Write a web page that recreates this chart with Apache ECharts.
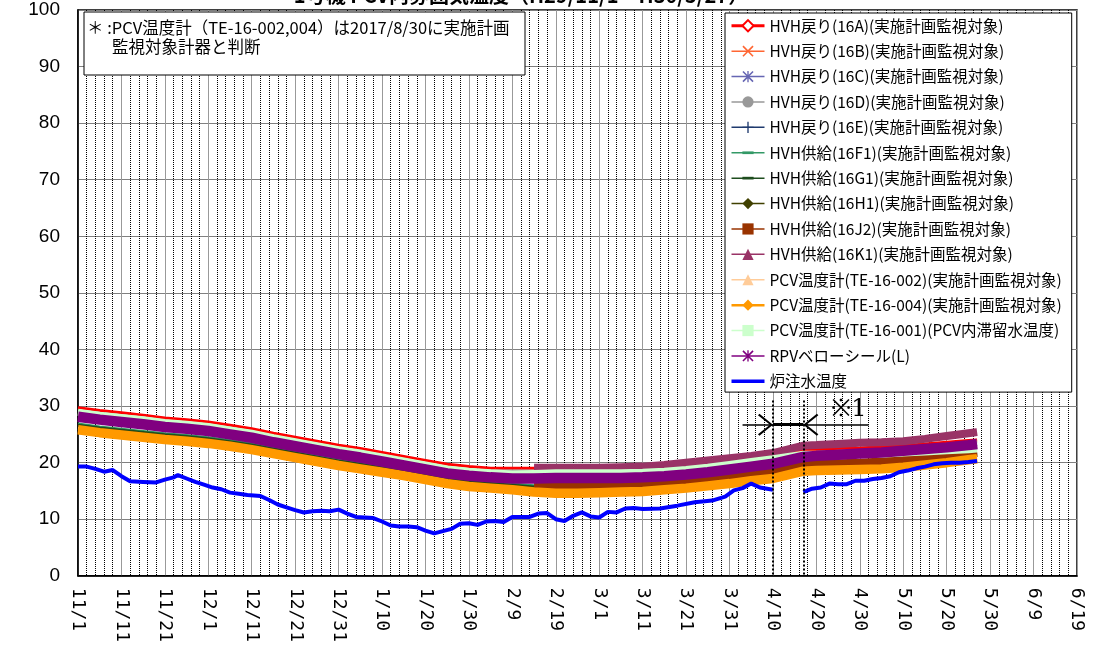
<!DOCTYPE html>
<html>
<head>
<meta charset="utf-8">
<title>PCV温度</title>
<script src="https://cdn.jsdelivr.net/npm/echarts@6/dist/echarts.min.js"></script>
<style>
html, body { margin: 0; padding: 0; background: #fff; }
#chart { width: 1100px; height: 645px; }
</style>
</head>
<body>
<div id="chart"></div>
<script>
/* x軸ラベル (11/1起点, 10日毎) */
var tickLabels = ['11/1','11/11','11/21','12/1','12/11','12/21','12/31','1/10','1/20','1/30','2/9','2/19',
    '3/1','3/11','3/21','3/31','4/10','4/20','4/30','5/10','5/20','5/30','6/9','6/19'];

/* 11/1からの経過日数 */
var days = [0,5,10,15,20,25,30,35,40,45,50,55,60,65,70,75,80,85,90,95,100,105,110,115,120,125,130,135,140,145,150,155,160,
    167,170,175,180,185,190,195,200,205,207];

var hvh16A = [29.7,29.2,28.8,28.4,27.9,27.6,27.2,26.6,26.0,25.2,24.5,23.8,23.1,22.5,21.8,21.1,20.4,19.7,19.3,19.0,19.0,19.0,19.0,19.0,19.1,19.2,19.3,19.5,19.8,20.1,20.5,20.9,21.3,
    22.2,22.3,22.5,22.6,22.8,23.0,23.3,23.6,23.9,24.0];
var hvh16B = [28.7,28.2,27.8,27.4,26.9,26.6,26.2,25.6,25.0,24.2,23.5,22.8,22.1,21.5,20.8,20.1,19.4,18.7,18.3,18.0,17.8,17.7,17.8,17.8,17.8,17.8,17.8,18.1,18.5,18.9,19.4,19.9,20.4,
    21.6,21.8,22.0,22.2,22.4,22.7,23.0,23.3,23.7,23.9];
var hvh16C = [28.4,27.9,27.5,27.1,26.6,26.3,25.9,25.3,24.7,23.9,23.2,22.5,21.8,21.2,20.5,19.8,19.1,18.4,18.0,17.7,17.5,17.4,17.5,17.5,17.5,17.5,17.5,17.8,18.2,18.6,19.1,19.6,20.1,
    21.3,21.5,21.7,21.9,22.1,22.4,22.7,23.0,23.4,23.6];
var hvh16D = [29.2,28.8,28.4,28.0,27.4,27.1,26.8,26.2,25.5,24.7,23.9,23.1,22.4,21.8,21.1,20.5,19.7,19.0,18.7,18.6,18.6,18.6,18.6,18.6,18.7,18.8,18.9,19.1,19.4,19.7,20.1,20.5,20.9,
    21.8,21.9,22.1,22.2,22.4,22.6,22.9,23.2,23.5,23.6];
var hvh16E = [27.9,27.4,27.0,26.6,26.1,25.8,25.4,24.8,24.2,23.4,22.7,22.0,21.3,20.7,20.0,19.3,18.6,17.9,17.5,17.2,17.0,16.9,17.0,17.0,17.0,17.0,17.0,17.3,17.7,18.1,18.6,19.1,19.6,
    20.8,21.0,21.2,21.4,21.6,21.9,22.2,22.5,22.9,23.1];
var hvh16F1 = [26.9,26.4,26.0,25.6,25.2,24.9,24.5,24.0,23.4,22.7,22.0,21.3,20.6,20.0,19.4,18.8,18.1,17.4,16.9,16.6,16.3,16.0,15.8,15.8,15.9,16.0,16.1,16.4,16.7,17.1,17.5,18.0,18.4,
    19.6,19.7,19.8,19.9,20.0,20.3,20.7,21.1,21.6,21.8];
var hvh16G1 = [26.7,26.2,25.8,25.4,25.0,24.7,24.3,23.8,23.2,22.5,21.8,21.1,20.4,19.8,19.2,18.6,17.9,17.2,16.7,16.4,16.1,15.8,15.6,15.6,15.7,15.8,15.9,16.2,16.5,16.9,17.3,17.8,18.2,
    19.4,19.5,19.6,19.7,19.8,20.1,20.5,20.9,21.4,21.6];
var hvh16H1 = [26.5,26.0,25.6,25.2,24.8,24.5,24.1,23.6,23.0,22.3,21.6,20.9,20.2,19.6,19.0,18.4,17.7,17.0,16.5,16.2,15.9,15.6,15.4,15.4,15.5,15.6,15.7,16.0,16.3,16.7,17.1,17.6,18.0,
    19.2,19.3,19.4,19.5,19.6,19.9,20.3,20.7,21.2,21.4];
var hvh16J2 = [null,null,null,null,null,null,null,null,null,null,null,null,null,null,null,null,null,null,null,null,null,
    15.8,15.8,15.8,15.8,15.9,16.0,16.4,16.8,17.2,17.6,18.0,18.4,
    19.6,19.7,19.8,19.9,20.1,20.4,20.8,21.2,21.6,21.8];
var hvh16K1 = [null,null,null,null,null,null,null,null,null,null,null,null,null,null,null,null,null,null,null,null,null,
    19.1,19.1,19.1,19.1,19.2,19.3,19.6,20.0,20.4,20.8,21.2,21.7,
    23.0,23.1,23.3,23.5,23.6,23.8,24.2,24.7,25.2,25.4];
var te002 = [26.1,25.6,25.2,24.8,24.4,24.1,23.7,23.2,22.6,21.9,21.2,20.5,19.8,19.2,18.6,18.0,17.3,16.6,16.1,15.8,15.5,15.2,15.0,15.0,15.1,15.2,15.3,15.6,15.9,16.3,16.7,17.2,17.6,
    18.8,18.9,19.0,19.1,19.2,19.5,19.9,20.3,20.8,21.0];
var te004 = [25.8,25.3,24.9,24.5,24.1,23.8,23.4,22.9,22.3,21.6,20.9,20.2,19.5,18.9,18.3,17.7,17.0,16.3,15.8,15.5,15.2,14.8,14.6,14.6,14.7,14.8,14.9,15.2,15.5,15.9,16.3,16.8,17.2,
    18.5,18.6,18.7,18.8,18.9,19.2,19.6,20.0,20.5,20.7];
var te001 = [28.9,28.4,28.0,27.6,27.1,26.8,26.4,25.8,25.2,24.4,23.7,23.0,22.3,21.7,21.0,20.3,19.6,18.9,18.5,18.2,18.0,18.1,18.2,18.2,18.2,18.2,18.3,18.5,18.8,19.2,19.7,20.2,20.7,
    21.5,21.5,21.5,21.5,21.5,21.7,21.9,22.1,22.3,22.4];
var rpvBellows = [28.1,27.6,27.2,26.8,26.3,26.0,25.6,25.0,24.4,23.6,22.9,22.2,21.5,20.9,20.2,19.5,18.8,18.1,17.7,17.4,17.2,17.2,17.3,17.3,17.3,17.3,17.4,17.6,17.9,18.3,18.8,19.3,19.8,
    21.0,21.2,21.4,21.6,21.8,22.1,22.4,22.7,23.1,23.3];

/* 炉注水温度 (4/10～4/17 欠測) */
var waterDays = [0,2,4,6,8,10,12,15,18,20,22,23,25,27,29,31,33,35,37,39,42,44,46,48,50,52,54,56,58,60,
    62,64,66,68,70,72,74,76,78,80,82,84,86,88,90,92,94,96,98,100,102,104,106,108,110,112,114,116,118,120,
    122,124,126,128,130,134,138,142,146,149,151,153,155,157,160,163,167,169,171,173,175,177,179,181,183,185,
    187,189,191,193,195,197,199,201,203,205,207];
var waterTemp = [19.3,19.3,18.9,18.4,18.7,17.6,16.7,16.6,16.5,17.0,17.4,17.8,17.2,16.6,16.1,15.6,15.3,14.7,14.5,14.3,
    14.1,13.4,12.6,12.1,11.6,11.2,11.4,11.5,11.4,11.7,11.0,10.4,10.3,10.2,9.6,8.9,8.7,8.7,8.6,8.0,
    7.5,7.9,8.3,9.2,9.3,9.0,9.6,9.7,9.5,10.4,10.4,10.4,11.0,11.1,10.0,9.7,10.6,11.2,10.5,10.3,
    11.3,11.2,11.9,12.0,11.8,11.9,12.4,13.0,13.3,14.0,15.1,15.5,16.3,15.6,15.2,null,
    14.8,15.4,15.6,16.3,16.2,16.2,16.8,16.8,17.1,17.3,17.6,18.3,18.6,19.0,19.3,19.7,19.9,20.0,20.0,20.1,20.3];

var FONT = "'Noto Sans CJK JP', sans-serif";

/* 記号 */
var symCross = 'path://M0,1L1,0L5,4L9,0L10,1L6,5L10,9L9,10L5,6L1,10L0,9L4,5Z';
var symStar = 'path://M0,1L1,0L5,4L9,0L10,1L6,5L10,9L9,10L5,6L1,10L0,9L4,5Z M4.4,0H5.6V10H4.4Z';
var symPlus = 'path://M4.4,0H5.6V4.4H10V5.6H5.6V10H4.4V5.6H0V4.4H4.4Z';
var symDash = 'path://M1,3.8H9V6.2H1Z M5,0L5,0 M5,10L5,10';
var symChevron = 'path://M11,0L22,13.5L20.6,15L11,3L1.4,15L0,13.5Z';

function zip(xs, ys) {
    var out = [];
    for (var i = 0; i < xs.length; i++) {
        out.push([xs[i], ys[i]]);
    }
    return out;
}

function lineSeries(name, xs, ys, color, width, symbol) {
    return {
        name: name,
        type: 'line',
        data: zip(xs, ys),
        symbol: symbol,
        showSymbol: false,
        connectNulls: false,
        lineStyle: { color: color, width: width },
        itemStyle: { color: color },
        emphasis: { disabled: true },
        animation: false
    };
}

var series = [
    lineSeries('HVH戻り(16A)(実施計画監視対象)', days, hvh16A, '#ff0000', 3, 'emptyDiamond'),
    lineSeries('HVH戻り(16B)(実施計画監視対象)', days, hvh16B, '#ff6633', 2, symCross),
    lineSeries('HVH戻り(16C)(実施計画監視対象)', days, hvh16C, '#6666b3', 2, symStar),
    lineSeries('HVH戻り(16D)(実施計画監視対象)', days, hvh16D, '#999999', 2, 'circle'),
    lineSeries('HVH戻り(16E)(実施計画監視対象)', days, hvh16E, '#1f3a6e', 2, symPlus),
    lineSeries('HVH供給(16F1)(実施計画監視対象)', days, hvh16F1, '#339966', 2, symDash),
    lineSeries('HVH供給(16G1)(実施計画監視対象)', days, hvh16G1, '#1e4d1e', 2, symDash),
    lineSeries('HVH供給(16H1)(実施計画監視対象)', days, hvh16H1, '#404000', 2, 'diamond'),
    lineSeries('HVH供給(16J2)(実施計画監視対象)', days, hvh16J2, '#993300', 9, 'rect'),
    lineSeries('HVH供給(16K1)(実施計画監視対象)', days, hvh16K1, '#993366', 8, 'triangle'),
    lineSeries('PCV温度計(TE-16-002)(実施計画監視対象)', days, te002, '#ffcc99', 3, 'triangle'),
    lineSeries('PCV温度計(TE-16-004)(実施計画監視対象)', days, te004, '#ff9900', 9.5, 'diamond'),
    lineSeries('PCV温度計(TE-16-001)(PCV内滞留水温度)', days, te001, '#ccffcc', 7, 'rect'),
    lineSeries('RPVベローシール(L)', days, rpvBellows, '#800080', 10.5, symStar),
    lineSeries('炉注水温度', waterDays, waterTemp, '#0000ff', 4, 'none')
];

/* ※1 注記 */
series[14].markLine = {
    silent: true,
    symbol: ['none', 'none'],
    animation: false,
    label: { show: false },
    lineStyle: { color: '#000', width: 1.5, type: 'solid' },
    data: [
        [{ coord: [160, 31], lineStyle: { type: [2, 2], width: 2 } }, { coord: [160, 0] }],
        [{ coord: [167, 31], lineStyle: { type: [2, 2], width: 2 } }, { coord: [167, 0] }],
        [{ coord: [153, 26.7] }, { coord: [182, 26.7] }],
        [{ coord: [160, 26.7], lineStyle: { width: 3 } }, { coord: [167, 26.7] }]
    ]
};
series[14].markPoint = {
    silent: true,
    animation: false,
    itemStyle: { color: '#000' },
    label: { show: false },
    data: [
        { coord: [160, 26.7], symbol: symChevron, symbolSize: [22, 15], symbolRotate: -90, symbolOffset: [-7.5, 0] },
        { coord: [167, 26.7], symbol: symChevron, symbolSize: [22, 15], symbolRotate: 90, symbolOffset: [7.5, 0] },
        {
            coord: [177.5, 29.4], symbol: 'circle', symbolSize: 1, itemStyle: { color: 'rgba(0,0,0,0)' },
            label: { show: true, position: 'inside', formatter: '※1', fontSize: 24, color: '#000',
                fontFamily: "'DejaVu Serif', serif" }
        }
    ]
};

var legendData = series.map(function (s) {
    return { name: s.name };
});
legendData[0].lineStyle = { width: 3 };
legendData[11].lineStyle = { width: 2.5 };
legendData[14].icon = 'path://M0,0H33V3.5H0Z';

var chart = echarts.init(document.getElementById('chart'));
chart.setOption({
    animation: false,
    backgroundColor: '#fff',
    textStyle: { fontFamily: FONT },
    grid: { left: 78, right: 23, top: 10, bottom: 69, show: true, borderColor: '#000', borderWidth: 1.5 },
    legend: {
        orient: 'vertical',
        left: 725,
        top: 13,
        padding: [5, 10, 3, 5],
        itemWidth: 33,
        itemHeight: 14,
        itemGap: 9.9,
        selectedMode: false,
        backgroundColor: '#fff',
        borderColor: '#000',
        borderWidth: 1,
        lineStyle: { width: 1.5 },
        textStyle: { fontSize: 15.5, lineHeight: 14, color: '#000', fontFamily: FONT },
        data: legendData,
        z: 10
    },
    xAxis: {
        type: 'value',
        min: 0,
        max: 230,
        interval: 10,
        axisLine: { show: true, lineStyle: { color: '#000', width: 1.5 } },
        axisTick: { show: false },
        axisLabel: {
            rotate: -90,
            fontSize: 18,
            fontFamily: "'DejaVu Sans Mono', monospace",
            color: '#000',
            margin: 12,
            showMinLabel: true,
            showMaxLabel: true,
            formatter: function (v) { return tickLabels[Math.round(v / 10)]; }
        },
        splitLine: { show: true, lineStyle: { color: '#999', width: 1 } },
        minorTick: { show: false, splitNumber: 5 },
        minorSplitLine: { show: true, lineStyle: { color: '#000', width: 1, type: [1, 1] } }
    },
    yAxis: {
        type: 'value',
        min: 0,
        max: 100,
        interval: 10,
        axisLine: { show: true, lineStyle: { color: '#000', width: 1.5 } },
        axisTick: { show: false },
        axisLabel: { fontSize: 19, fontFamily: "'Liberation Sans', sans-serif", color: '#000', margin: 18 },
        splitLine: { show: true, lineStyle: { color: '#808080', width: 1 } }
    },
    graphic: [
        {
            type: 'text', x: 521, y: 5, z: 100,
            style: { text: '1号機 PCV内雰囲気温度（H29/11/1～H30/5/27）', font: 'bold 20px ' + FONT,
                fill: '#000', textAlign: 'center', textVerticalAlign: 'bottom' }
        },
        {
            type: 'rect', z: 100,
            shape: { x: 84, y: 12, width: 441, height: 63 },
            style: { fill: '#fff', stroke: '#000', lineWidth: 1 }
        },
        {
            type: 'text', x: 87, y: 28, z: 101,
            style: { text: '＊ :PCV温度計（TE-16-002,004）は2017/8/30に実施計画', font: '16.5px ' + FONT,
                fill: '#000', textVerticalAlign: 'middle' }
        },
        {
            type: 'text', x: 112, y: 47, z: 101,
            style: { text: '監視対象計器と判断', font: '16.5px ' + FONT, fill: '#000', textVerticalAlign: 'middle' }
        }
    ],
    series: series
});
</script>
</body>
</html>
